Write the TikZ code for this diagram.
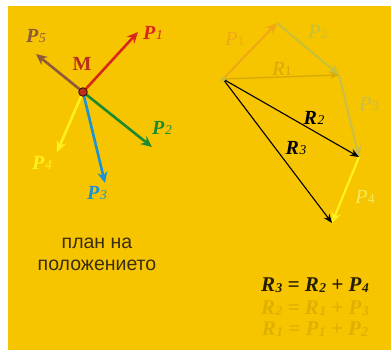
\documentclass[tikz,border=0pt]{standalone}
\usepackage{fontspec}
\setmainfont{Liberation Serif}
\newfontfamily\labelsans{Liberation Sans}
\usetikzlibrary{arrows.meta}
\definecolor{bgyel}{HTML}{F7C400}
\definecolor{cpone}{HTML}{D8281C}
\definecolor{cpfive}{HTML}{8E5A3A}
\definecolor{cptwo}{HTML}{1E8A30}
\definecolor{cpfour}{HTML}{FFF020}
\definecolor{cpthree}{HTML}{1A92D6}
\definecolor{cmdot}{HTML}{B8301A}
\definecolor{fone}{HTML}{F0A818}
\definecolor{ftwo}{HTML}{C8C03A}
\definecolor{fr}{HTML}{D8A808}
\definecolor{fthree}{HTML}{C8BE48}
\definecolor{ffour}{HTML}{F6E85A}
\definecolor{feq}{HTML}{E0B000}
\definecolor{txt}{HTML}{3A2E10}
\newcommand{\sdig}[1]{\kern0.5pt\raisebox{-0.5pt}{\fontsize{13.5}{13.5}\selectfont #1}}
\newcommand{\vlab}[2]{\textbf{\textit{#1}}\sdig{\textit{#2}}}
\tikzset{
  force/.style={line width=2.6pt,-{Stealth[length=11pt,width=10pt]}},
  resul/.style={line width=1.1pt,-{Stealth[length=9pt,width=7pt]}},
  vl/.style={font=\fontsize{20}{20}\selectfont,inner sep=0pt},
  eq/.style={font=\fontsize{21}{21}\selectfont\bfseries\itshape,inner sep=0pt}
}
\begin{document}
\begin{tikzpicture}[x=1pt,y=-1pt]
\useasboundingbox (0,0) rectangle (391,350);
\fill[white] (0,0) rectangle (391,350);
\fill[bgyel] (8,6) rectangle (391,350);
% left diagram
\coordinate (M) at (83,92);
\coordinate (t1) at (138,32);
\coordinate (t5) at (36,54);
\coordinate (t2) at (152,147);
\coordinate (t4) at (57,152);
\coordinate (t3) at (105,183);
\draw[force,cpone] (M) -- (t1);
\draw[force,cpfive] (M) -- (t5);
\draw[force,cptwo] (M) -- (t2);
\draw[force,cpfour] (M) -- (t4);
\draw[force,cpthree] (M) -- (t3);
\fill[cmdot,draw=black!70!cmdot,line width=0.8pt] (M) circle (4.3);
\node[vl,text=cmdot,font=\fontsize{20}{20}\selectfont\bfseries] (lM) at (82,64) {M};
\node[vl,text=cpone] (l1) at (153,33) {\vlab{P}{1}};
\node[vl,text=cpfive] (l5) at (36,36) {\vlab{P}{5}};
\node[vl,text=cptwo] (l2) at (162,128) {\vlab{P}{2}};
\node[vl,text=cpfour] (l4) at (42,163) {\vlab{P}{4}};
\node[vl,text=cpthree] (l3) at (97,193) {\vlab{P}{3}};
\node[text=txt,font=\labelsans\fontsize{19.5}{22}\selectfont,align=center,inner sep=0pt] (plan) at (97,254) {план на\\положението};
% right diagram
\coordinate (O) at (223,79);
\coordinate (A) at (277,23);
\coordinate (B) at (339,75);
\coordinate (C) at (359,157);
\coordinate (D) at (332,223);
\draw[force,fone,line width=2pt] (O) -- (A);
\draw[force,ftwo,line width=2pt] (A) -- (B);
\draw[force,fthree,line width=2pt] (B) -- (C);
\draw[force,cpfour,line width=2.2pt] (C) -- (D);
\draw[resul,fr,line width=1.3pt] (O) -- (B);
\draw[resul,black] (O) -- (C);
\draw[resul,black] (O) -- (D);
\fill[ftwo] (O) circle (2.4);
\node[vl,text=fone] (m1) at (235,39) {\textit{P}\sdig{1}};
\node[vl,text=ftwo] (m2) at (318,32) {\textit{P}\sdig{2}};
\node[vl,text=fr] (mr1) at (282,69) {\textit{R}\sdig{1}};
\node[vl,text=fthree] (m3) at (369,104) {\textit{P}\sdig{3}};
\node[vl,text=black] (mr2) at (314,118) {\vlab{R}{2}};
\node[vl,text=black] (mr3) at (296,148) {\vlab{R}{3}};
\node[vl,text=ffour] (m4) at (365,197) {\textit{P}\sdig{4}};
% equations
\node[eq,text=black!85!bgyel] (e1) at (315,285) {R\sdig{3} = R\sdig{2} + P\sdig{4}};
\node[eq,text=feq] (e2) at (315,308) {R\sdig{2} = R\sdig{1} + P\sdig{3}};
\node[eq,text=feq] (e3) at (315,329) {R\sdig{1} = P\sdig{1} + P\sdig{2}};
\end{tikzpicture}
\end{document}
